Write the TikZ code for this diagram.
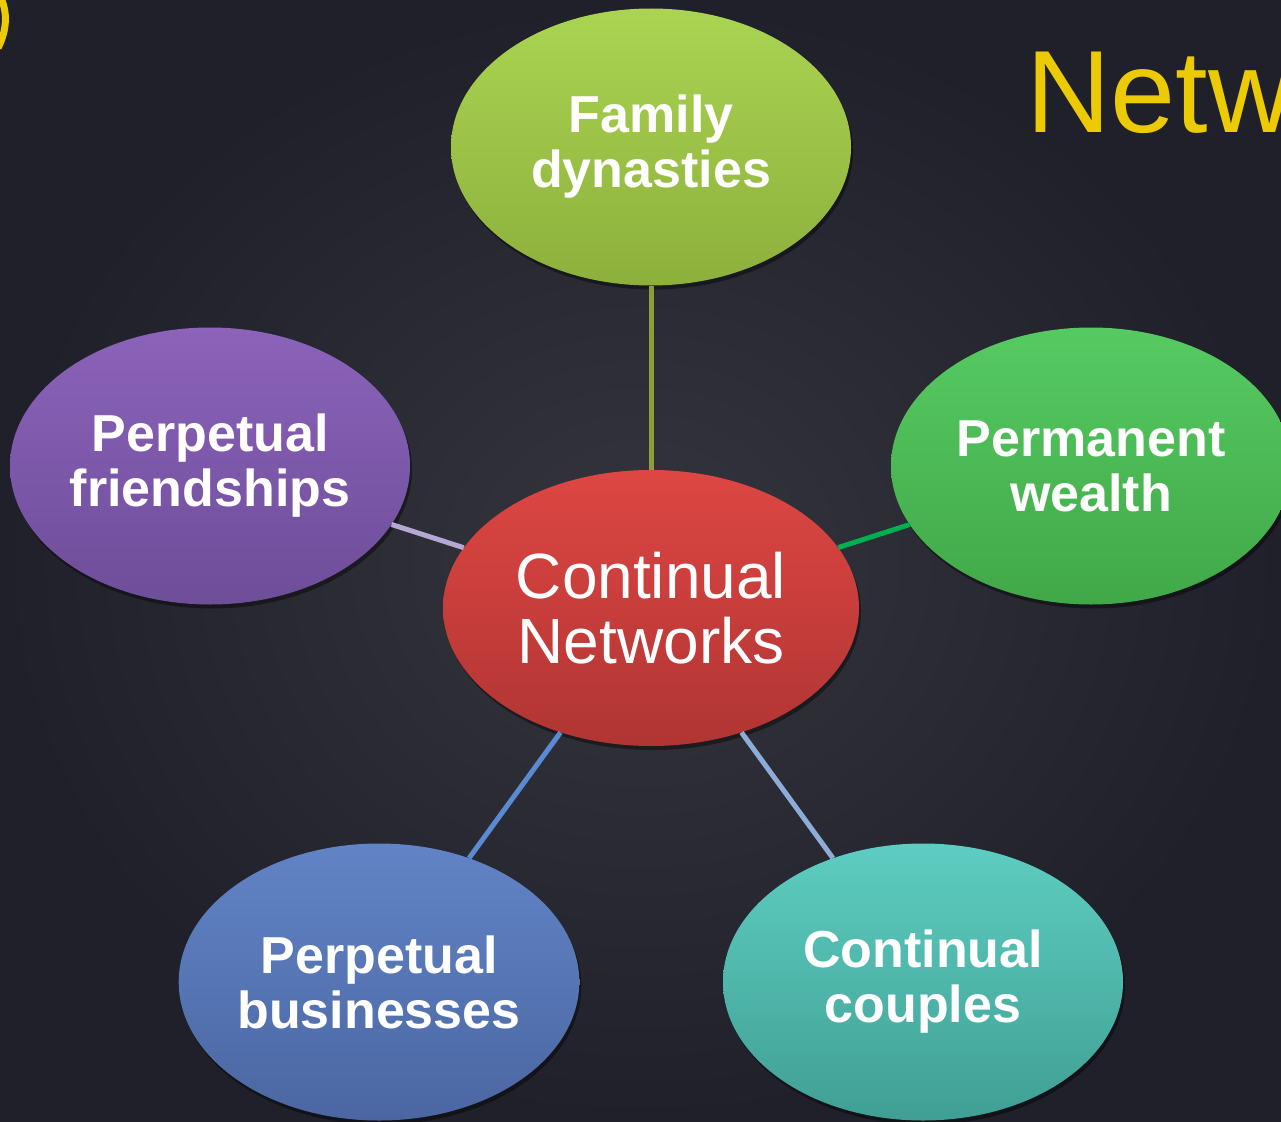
\documentclass[tikz,border=0pt]{standalone}
\usepackage{fontspec}
\setmainfont{Liberation Sans}
\usepackage{xcolor}
\usetikzlibrary{shapes.geometric,shadows}

\definecolor{bgin}{HTML}{34353D}
\definecolor{bgout}{HTML}{1F2029}
\definecolor{titleyellow}{HTML}{EDCB04}
\definecolor{famtop}{HTML}{AAD452}
\definecolor{fambot}{HTML}{8DB03C}
\definecolor{fritop}{HTML}{8B63BA}
\definecolor{fribot}{HTML}{6E4D99}
\definecolor{weatop}{HTML}{56CA62}
\definecolor{weabot}{HTML}{41A848}
\definecolor{contop}{HTML}{DE4643}
\definecolor{conbot}{HTML}{B03533}
\definecolor{bustop}{HTML}{6184C6}
\definecolor{busbot}{HTML}{4B66A2}
\definecolor{coutop}{HTML}{5ECDC1}
\definecolor{coubot}{HTML}{409F94}
\definecolor{famline}{HTML}{8C9D3B}
\definecolor{friline}{HTML}{B6A7D3}
\definecolor{wealine}{HTML}{00B050}
\definecolor{busline}{HTML}{5B8AD4}
\definecolor{couline}{HTML}{8FABD8}

\begin{document}
\begin{tikzpicture}[x=1pt, y=-1pt,
    bubble/.style={ellipse, minimum width=400pt, minimum height=277pt, inner sep=0pt,
        align=center, text=white, font=\bfseries\fontsize{52}{55}\selectfont,
        drop shadow={shadow xshift=2pt, shadow yshift=-4pt, opacity=0.4, fill=black}},
    hub/.style={bubble, minimum width=416pt, minimum height=276pt,
        font=\fontsize{64}{65}\selectfont},
    spoke/.style={line width=5pt}]
    \useasboundingbox (0,0) rectangle (1281,1121);
    \clip (0,0) rectangle (1281,1121);
    \shade[inner color=bgin, outer color=bgout] (0,0) rectangle (1281,1121);
    % corner arc and title
    \draw[titleyellow, line width=7pt] (0,-4) .. controls (8,12) and (7,30) .. (-2,48);
    \node[anchor=base west, text=titleyellow, font=\fontsize{117}{120}\selectfont, inner sep=0pt]
        (title) at (1026,132) {Netw};
    % bubbles
    \node[hub, top color=contop, bottom color=conbot] (net) at (651,608) {Continual\\Networks};
    \node[bubble, top color=famtop, bottom color=fambot] (fam) at (651,147) {Family\\dynasties};
    \node[bubble, top color=fritop, bottom color=fribot] (fri) at (210,466) {Perpetual\\friendships};
    \node[bubble, top color=weatop, bottom color=weabot] (wea) at (1091,466) {Permanent\\wealth};
    \node[bubble, top color=bustop, bottom color=busbot] (bus) at (379,982) {Perpetual\\businesses};
    \node[bubble, top color=coutop, bottom color=coubot] (cou) at (923,982) {Continual\\couples};
    % spokes
    \draw[spoke, famline] (fam) -- (net);
    \draw[spoke, friline] (fri) -- (net);
    \draw[spoke, wealine] (wea) -- (net);
    \draw[spoke, busline] (bus) -- (net);
    \draw[spoke, couline] (cou) -- (net);
\end{tikzpicture}
\end{document}
